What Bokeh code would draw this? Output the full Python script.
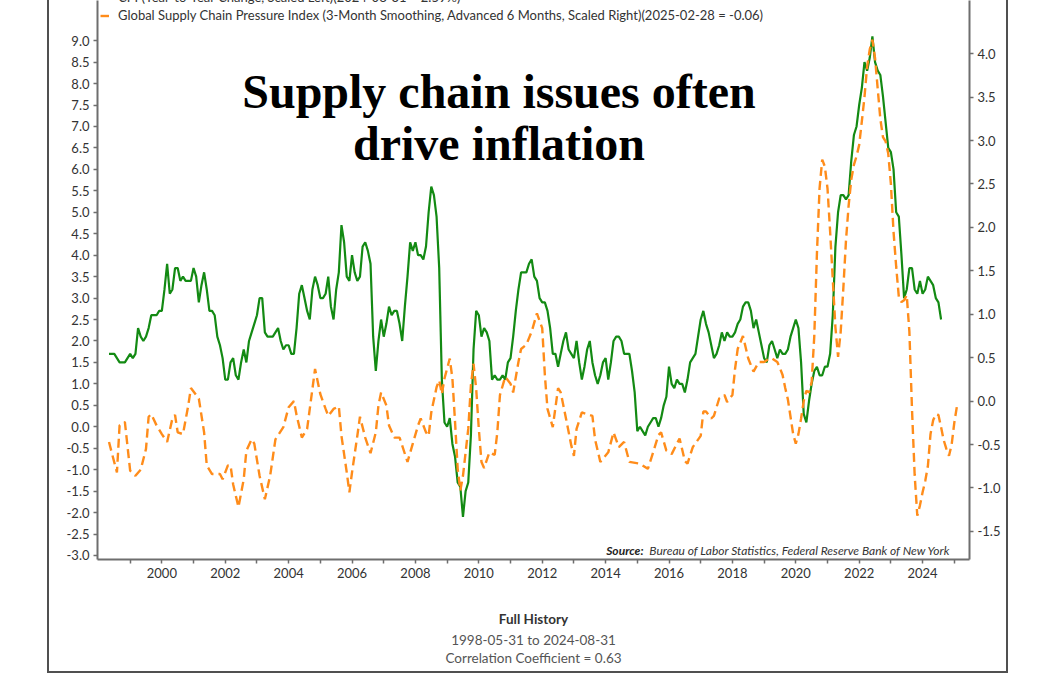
from bokeh.plotting import figure
from bokeh.models import (Range1d, LinearAxis, FixedTicker, NumeralTickFormatter,
                          BasicTickFormatter, Label, Legend, LegendItem, ColumnDataSource,
                          Title)
from bokeh.embed import file_html
from bokeh.resources import INLINE

# ---------------- data ----------------
cpi_start_year = 1998
cpi_start_month = 5
cpi_yoy = [
    1.7, 1.7, 1.7, 1.6, 1.5, 1.5, 1.5, 1.6,
    1.7, 1.6, 1.7, 2.3, 2.1, 2.0, 2.1, 2.3, 2.6, 2.6, 2.6, 2.7,
    2.7, 3.2, 3.8, 3.1, 3.2, 3.7, 3.7, 3.4, 3.5, 3.4, 3.4, 3.4,
    3.7, 3.5, 2.9, 3.3, 3.6, 3.2, 2.7, 2.7, 2.6, 2.1, 1.9, 1.6,
    1.1, 1.1, 1.5, 1.6, 1.2, 1.1, 1.5, 1.8, 1.5, 2.0, 2.2, 2.4,
    2.6, 3.0, 3.0, 2.2, 2.1, 2.1, 2.1, 2.2, 2.3, 2.0, 1.8, 1.9,
    1.9, 1.7, 1.7, 2.3, 3.1, 3.3, 3.0, 2.7, 2.5, 3.2, 3.5, 3.3,
    3.0, 3.0, 3.1, 3.5, 2.8, 2.5, 3.2, 3.6, 4.7, 4.3, 3.5, 3.4,
    4.0, 3.6, 3.4, 3.5, 4.2, 4.3, 4.1, 3.8, 2.1, 1.3, 2.0, 2.5,
    2.1, 2.4, 2.8, 2.6, 2.7, 2.7, 2.4, 2.0, 2.8, 3.5, 4.3, 4.1,
    4.3, 4.0, 4.0, 3.9, 4.2, 5.0, 5.6, 5.4, 4.9, 3.7, 1.1, 0.1,
    0.0, 0.2, -0.4, -0.7, -1.3, -1.4, -2.1, -1.5, -1.3, -0.2, 1.8, 2.7,
    2.6, 2.1, 2.3, 2.2, 2.0, 1.1, 1.2, 1.1, 1.1, 1.2, 1.1, 1.5,
    1.6, 2.1, 2.7, 3.2, 3.6, 3.6, 3.6, 3.8, 3.9, 3.5, 3.4, 3.0,
    2.9, 2.9, 2.7, 2.3, 1.7, 1.7, 1.4, 1.7, 2.0, 2.2, 1.8, 1.7,
    1.6, 2.0, 1.5, 1.1, 1.4, 1.8, 2.0, 1.5, 1.2, 1.0, 1.2, 1.5,
    1.6, 1.1, 1.5, 2.0, 2.1, 2.1, 2.0, 1.7, 1.7, 1.7, 1.3, 0.8,
    -0.1, 0.0, -0.1, -0.2, 0.0, 0.1, 0.2, 0.2, 0.0, 0.2, 0.5, 0.7,
    1.4, 1.0, 0.9, 1.1, 1.0, 1.0, 0.8, 1.1, 1.5, 1.6, 1.7, 2.1,
    2.5, 2.7, 2.4, 2.2, 1.9, 1.6, 1.7, 1.9, 2.2, 2.0, 2.2, 2.1,
    2.1, 2.2, 2.4, 2.5, 2.8, 2.9, 2.9, 2.7, 2.3, 2.5, 2.2, 1.9,
    1.6, 1.5, 1.9, 2.0, 1.8, 1.6, 1.8, 1.7, 1.7, 1.8, 2.1, 2.3,
    2.5, 2.3, 1.5, 0.3, 0.1, 0.6, 1.0, 1.3, 1.4, 1.2, 1.2, 1.4,
    1.4, 1.7, 2.6, 4.2, 5.0, 5.4, 5.4, 5.3, 5.4, 6.2, 6.8, 7.0,
    7.5, 7.9, 8.5, 8.3, 8.6, 9.1, 8.5, 8.3, 8.2, 7.7, 7.1, 6.5,
    6.4, 6.0, 5.0, 4.9, 4.0, 3.0, 3.2, 3.7, 3.7, 3.2, 3.1, 3.4,
    3.1, 3.2, 3.5, 3.4, 3.3, 3.0, 2.9, 2.5,
]

gscpi_months = [
    "1998-05", "1998-06", "1998-08", "1998-09", "1998-11", "1999-01", "1999-03", "1999-05",
    "1999-07", "1999-08", "1999-09", "1999-11", "2000-01", "2000-03", "2000-05", "2000-06",
    "2000-07", "2000-09", "2000-11", "2000-12", "2001-03", "2001-05", "2001-06", "2001-08",
    "2001-11", "2001-12", "2002-02", "2002-03", "2002-04", "2002-06", "2002-08", "2002-09",
    "2002-11", "2002-12", "2003-02", "2003-04", "2003-06", "2003-08", "2003-11", "2004-01",
    "2004-03", "2004-04", "2004-06", "2004-08", "2004-09", "2004-11", "2005-01", "2005-03",
    "2005-04", "2005-06", "2005-08", "2005-09", "2005-11", "2005-12", "2006-01", "2006-03",
    "2006-04", "2006-06", "2006-08", "2006-10", "2006-11", "2006-12", "2007-02", "2007-03",
    "2007-05", "2007-07", "2007-10", "2007-12", "2008-02", "2008-03", "2008-05", "2008-06",
    "2008-07", "2008-09", "2008-10", "2008-11", "2008-12", "2009-02", "2009-03", "2009-04",
    "2009-05", "2009-06", "2009-07", "2009-09", "2009-10", "2009-11", "2009-12", "2010-01",
    "2010-02", "2010-03", "2010-05", "2010-07", "2010-08", "2010-09", "2010-11", "2011-01",
    "2011-02", "2011-04", "2011-05", "2011-07", "2011-09", "2011-11", "2012-01", "2012-02",
    "2012-03", "2012-05", "2012-07", "2012-08", "2012-10", "2012-12", "2013-01", "2013-02",
    "2013-04", "2013-08", "2013-09", "2013-11", "2014-02", "2014-04", "2014-06", "2014-08",
    "2014-10", "2015-02", "2015-05", "2015-07", "2015-09", "2015-10", "2015-12", "2016-02",
    "2016-05", "2016-07", "2016-08", "2016-10", "2017-01", "2017-02", "2017-03", "2017-05",
    "2017-06", "2017-08", "2017-10", "2017-11", "2018-01", "2018-02", "2018-03", "2018-05",
    "2018-07", "2018-09", "2018-11",
    "2019-01", "2019-02", "2019-03", "2019-04", "2019-05", "2019-06", "2019-07", "2019-08",
    "2019-09", "2019-10", "2019-11", "2019-12",
    "2020-01", "2020-02", "2020-03", "2020-04", "2020-05", "2020-06", "2020-07", "2020-08",
    "2020-09", "2020-10", "2020-11", "2020-12",
    "2021-01", "2021-02", "2021-03", "2021-04", "2021-05", "2021-06", "2021-07", "2021-08",
    "2021-09", "2021-10", "2021-11", "2021-12",
    "2022-01", "2022-02", "2022-03", "2022-04", "2022-05", "2022-06", "2022-07", "2022-08",
    "2022-09", "2022-10", "2022-11", "2022-12",
    "2023-01", "2023-02", "2023-03", "2023-04", "2023-05", "2023-06", "2023-07", "2023-08",
    "2023-09", "2023-10", "2023-11", "2023-12",
    "2024-01", "2024-02", "2024-03", "2024-04", "2024-05", "2024-06", "2024-07", "2024-08",
    "2024-09", "2024-10", "2024-11", "2024-12",
    "2025-01", "2025-02",
]
gscpi_values = [
    -0.47, -0.59, -0.82, -0.28, -0.24, -0.80, -0.86, -0.79,
    -0.55, -0.18, -0.15, -0.28, -0.38, -0.47, -0.20, -0.16,
    -0.36, -0.38, -0.05, 0.15, 0.03, -0.36, -0.74, -0.84,
    -0.84, -0.90, -0.74, -0.74, -0.96, -1.22, -0.90, -0.57,
    -0.44, -0.49, -0.86, -1.13, -0.86, -0.44, -0.30, -0.07,
    0.00, -0.16, -0.42, -0.32, -0.09, 0.37, 0.08, -0.09,
    -0.17, -0.09, -0.06, -0.40, -0.82, -1.05, -0.82, -0.40,
    -0.18, -0.42, -0.60, -0.36, -0.05, 0.10, -0.05, -0.28,
    -0.42, -0.42, -0.70, -0.49, -0.28, -0.20, -0.36, -0.40,
    -0.13, 0.16, 0.24, 0.08, 0.26, 0.49, 0.26, -0.24,
    -0.78, -1.03, -0.86, -0.32, 0.18, 0.43, 0.14, -0.32,
    -0.70, -0.77, -0.59, -0.62, -0.36, 0.07, 0.28, 0.20,
    0.10, 0.45, 0.60, 0.65, 0.80, 1.01, 0.84, 0.30,
    -0.09, -0.30, 0.15, 0.10, -0.20, -0.51, -0.63, -0.32,
    -0.13, -0.17, -0.44, -0.70, -0.59, -0.36, -0.53, -0.47,
    -0.70, -0.72, -0.78, -0.59, -0.39, -0.36, -0.57, -0.61,
    -0.43, -0.69, -0.72, -0.53, -0.40, -0.12, -0.12, -0.20,
    -0.17, 0.03, 0.07, -0.01, 0.07, 0.37, 0.60, 0.75,
    0.49, 0.34, 0.45,
    0.45, 0.47, 0.49, 0.49, 0.47, 0.45, 0.38, 0.30,
    0.15, 0.02, -0.18, -0.38,
    -0.49, -0.38, -0.20, 0.00, 0.12, 0.10, 0.22, 0.75,
    1.70, 2.45, 2.78, 2.70,
    2.45, 1.95, 1.40, 0.85, 0.51, 0.80, 1.30, 1.85,
    2.25, 2.55, 2.72, 2.82,
    2.95, 3.22, 3.50, 3.85, 4.05, 4.16, 3.95, 3.60,
    3.25, 3.04, 2.99, 2.85,
    2.50, 1.95, 1.55, 1.20, 1.14, 1.16, 1.22, 0.80,
    -0.10, -0.85, -1.32, -1.20,
    -1.05, -0.92, -0.75, -0.38, -0.22, -0.15, -0.16, -0.30,
    -0.45, -0.55, -0.63, -0.50,
    -0.25, -0.06,
]

left_ticks = [-3.0, -2.5, -2.0, -1.5, -1.0, -0.5, 0.0, 0.5, 1.0, 1.5, 2.0, 2.5, 3.0,
              3.5, 4.0, 4.5, 5.0, 5.5, 6.0, 6.5, 7.0, 7.5, 8.0, 8.5, 9.0]
right_ticks = [-1.5, -1.0, -0.5, 0.0, 0.5, 1.0, 1.5, 2.0, 2.5, 3.0, 3.5, 4.0]
year_ticks = [2000, 2002, 2004, 2006, 2008, 2010, 2012, 2014, 2016, 2018, 2020, 2022, 2024]
year_minor_ticks = [1999, 2001, 2003, 2005, 2007, 2009, 2011, 2013, 2015, 2017, 2019,
                    2021, 2023, 2025]

title_lines = ["Supply chain issues often", "drive inflation"]
cpi_label = "CPI (Year-to-Year Change, Scaled Left)(2024-08-31 = 2.59%)"
gscpi_label = ("Global Supply Chain Pressure Index (3-Month Smoothing, Advanced 6 Months, "
               "Scaled Right)(2025-02-28 = -0.06)")
source_head = "Source:"
source_text = "Bureau of Labor Statistics, Federal Reserve Bank of New York"
footer_lines = ["Full History", "1998-05-31 to 2024-08-31", "Correlation Coefficient = 0.63"]

# ---------------- derived x positions ----------------
cpi_x = []
for i in range(len(cpi_yoy)):
    m = cpi_start_month - 1 + i
    cpi_x.append(cpi_start_year + m // 12 + (m % 12) / 12.0)
gscpi_x = [int(s[:4]) + (int(s[5:7]) - 1) / 12.0 for s in gscpi_months]

# ---------------- figure ----------------
AXIS_COLOR = "#6e6e6e"
LABEL_COLOR = "#333333"
FONT = "Lato"

p = figure(width=961, height=673, output_backend="svg", toolbar_location=None,
           x_range=Range1d(1997.97, 2025.48), y_range=Range1d(-3.094, 9.936),
           min_border_left=48, min_border_right=41, min_border_top=0, min_border_bottom=114,
           background_fill_color="white", border_fill_color="white",
           outline_line_color=None,
           styles={"margin-left": "47px", "margin-top": "0px",
                   "border-left": "2px solid #505050",
                   "border-right": "2px solid #505050",
                   "border-bottom": "2px solid #505050"})
p.grid.visible = False
p.extra_y_ranges = {"right": Range1d(-1.8235, 4.612)}

right_axis = LinearAxis(y_range_name="right")
p.add_layout(right_axis, "right")

p.xaxis.ticker = FixedTicker(ticks=year_ticks, minor_ticks=year_minor_ticks)
p.xaxis.formatter = BasicTickFormatter(use_scientific=False)
p.yaxis[0].ticker = FixedTicker(ticks=left_ticks)
right_axis.ticker = FixedTicker(ticks=right_ticks)
for ax in [p.yaxis[0], right_axis]:
    ax.formatter = NumeralTickFormatter(format="0.0")
    ax.minor_tick_line_color = None

for ax in [p.xaxis[0], p.yaxis[0], right_axis]:
    ax.axis_line_color = AXIS_COLOR
    ax.axis_line_width = 2
    ax.major_tick_line_color = AXIS_COLOR
    ax.major_tick_line_width = 1.5
    ax.major_tick_in = 0
    ax.major_tick_out = 4
    ax.major_label_text_font = FONT
    ax.major_label_text_font_size = "13px"
    ax.major_label_text_color = LABEL_COLOR
    ax.major_label_standoff = 4
p.xaxis.minor_tick_line_color = AXIS_COLOR
p.xaxis.minor_tick_line_width = 1.5
p.xaxis.minor_tick_in = 0
p.xaxis.minor_tick_out = 4

# first footer line as the x-axis label
p.xaxis.axis_label = footer_lines[0]
p.xaxis.axis_label_text_font = FONT
p.xaxis.axis_label_text_font_style = "bold"
p.xaxis.axis_label_text_font_size = "13.5px"
p.xaxis.axis_label_text_color = "#333333"
p.xaxis.axis_label_standoff = 30

cpi_src = ColumnDataSource(dict(x=cpi_x, y=cpi_yoy))
gscpi_src = ColumnDataSource(dict(x=gscpi_x, y=gscpi_values))
r_cpi = p.line("x", "y", source=cpi_src, line_color="#138a13", line_width=2.2)
r_gscpi = p.line("x", "y", source=gscpi_src, y_range_name="right",
                 line_color="#ff8c1a", line_width=2.4, line_dash="9 5")

legend = Legend(items=[LegendItem(label=cpi_label, renderers=[r_cpi]),
                       LegendItem(label=gscpi_label, renderers=[r_gscpi])],
                location=(3, 536), orientation="vertical",
                label_text_font=FONT, label_text_font_size="13px",
                label_text_color=LABEL_COLOR, glyph_width=9, glyph_height=15,
                label_height=15, spacing=2, padding=0, margin=0, label_standoff=9,
                border_line_color=None, background_fill_alpha=0)
p.add_layout(legend)

# title
for txt, yy in zip(title_lines, [468, 416]):
    p.add_layout(Label(x=401.5, y=yy, x_units="screen", y_units="screen", text=txt,
                       text_font="Liberation Serif", text_font_style="bold",
                       text_font_size="48px", text_color="black",
                       text_align="center", text_baseline="alphabetic"))

# source
p.add_layout(Label(x=546, y=9, x_units="screen", y_units="screen", text=source_head,
                   text_font=FONT, text_font_style="bold italic", text_font_size="12px",
                   text_color="#222222", text_align="right", text_baseline="middle"))
p.add_layout(Label(x=853, y=9, x_units="screen", y_units="screen", text=source_text,
                   text_font=FONT, text_font_style="italic", text_font_size="12px",
                   text_color="#333333", text_align="right", text_baseline="middle"))

# remaining footer lines (titles below the x axis)
for txt in footer_lines[1:]:
    p.add_layout(Title(text=txt, align="center", text_font=FONT, text_font_style="normal",
                       text_font_size="13.5px", text_color="#555555", standoff=0), "below")

open("out.html", "w").write(file_html(p, INLINE))
